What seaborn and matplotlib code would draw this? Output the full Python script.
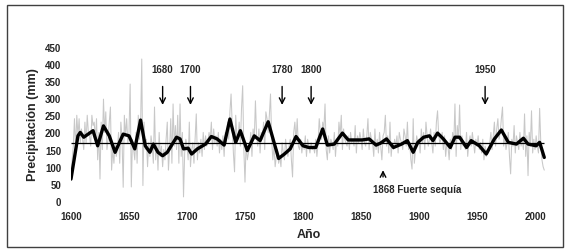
import numpy as np
import pandas as pd
import matplotlib
matplotlib.use("Agg")
import matplotlib.pyplot as plt
from matplotlib.patches import Rectangle
import seaborn as sns

sns.set_style("white")
plt.rcParams["font.family"] = ["Liberation Sans", "DejaVu Sans"]

# ------------------------------------------------------------
# data
# ------------------------------------------------------------
annual = [
    60, 120, 160, 240, 150, 250, 190, 240, 170, 210,     # 1600
    180, 150, 230, 170, 250, 200, 190, 160, 250, 220,    # 1610
    230, 180, 240, 120, 200, 64, 230, 150, 297, 200,     # 1620
    260, 150, 180, 230, 274, 90, 150, 110, 170, 130,     # 1630
    150, 200, 110, 230, 180, 40, 250, 190, 240, 170,     # 1640
    200, 341, 41, 180, 150, 120, 200, 110, 250, 180,     # 1650
    220, 414, 45, 230, 150, 180, 100, 170, 130, 190,     # 1660
    160, 110, 274, 120, 170, 90, 200, 130, 160, 100,     # 1670
    150, 120, 180, 230, 90, 150, 240, 110, 283, 160,     # 1680
    220, 150, 250, 110, 283, 130, 200, 12, 140, 180,     # 1690
    160, 120, 230, 100, 150, 170, 110, 180, 254, 120,    # 1700
    170, 140, 180, 130, 200, 150, 190, 160, 170, 200,    # 1710
    180, 230, 150, 210, 170, 190, 160, 200, 140, 180,    # 1720
    150, 190, 130, 200, 170, 230, 180, 260, 312, 220,    # 1730
    140, 85, 250, 190, 180, 230, 160, 270, 336, 150,     # 1740
    55, 170, 120, 140, 160, 200, 130, 210, 180, 292,     # 1750
    190, 160, 210, 140, 200, 180, 230, 150, 260, 240,    # 1760
    200, 250, 312, 180, 120, 160, 100, 130, 150, 110,    # 1770
    130, 100, 170, 140, 120, 180, 150, 130, 160, 180,    # 1780
    120, 70, 200, 230, 170, 240, 160, 150, 180, 140,     # 1790
    170, 150, 190, 130, 180, 160, 140, 170, 150, 160,    # 1800
    140, 180, 130, 170, 240, 200, 180, 230, 210, 283,    # 1810
    150, 120, 190, 140, 180, 170, 150, 200, 130, 180,    # 1820
    160, 230, 190, 250, 150, 210, 180, 170, 160, 190,    # 1830
    150, 200, 170, 180, 160, 220, 140, 190, 170, 200,    # 1840
    180, 150, 210, 170, 160, 190, 240, 150, 200, 180,    # 1850
    170, 130, 210, 150, 180, 140, 200, 160, 120, 190,    # 1860
    200, 250, 160, 190, 140, 230, 130, 170, 150, 180,    # 1870
    160, 190, 140, 200, 180, 170, 150, 210, 190, 160,    # 1880
    230, 150, 170, 120, 93, 240, 110, 150, 190, 170,     # 1890
    180, 140, 210, 170, 200, 150, 230, 190, 160, 180,    # 1900
    210, 170, 140, 200, 160, 230, 263, 190, 170, 180,    # 1910
    200, 150, 190, 130, 170, 160, 120, 180, 150, 200,    # 1920
    170, 283, 130, 220, 180, 280, 150, 190, 160, 170,    # 1930
    150, 200, 130, 170, 190, 160, 200, 170, 140, 180,    # 1940
    160, 190, 150, 170, 140, 180, 120, 160, 130, 150,    # 1950
    140, 170, 200, 150, 190, 230, 160, 210, 240, 180,    # 1960
    200, 240, 274, 160, 190, 150, 170, 200, 130, 79,     # 1970
    180, 160, 220, 140, 190, 170, 150, 200, 160, 180,    # 1980
    150, 254, 130, 190, 74, 200, 160, 263, 140, 180,     # 1990
    150, 190, 160, 140, 270, 170, 120, 100, 90,          # 2000
]
years = list(range(1600, 1600 + len(annual)))

smooth_years = [1600, 1606, 1608, 1611, 1619, 1623, 1628, 1633, 1638, 1645,
                1650, 1655, 1660, 1664, 1668, 1671, 1675, 1679, 1683, 1691,
                1694, 1697, 1701, 1704, 1709, 1716, 1721, 1726, 1732, 1737,
                1742, 1746, 1752, 1758, 1763, 1770, 1775, 1779, 1784, 1789,
                1794, 1800, 1805, 1811, 1817, 1821, 1827, 1834, 1839, 1851,
                1857, 1863, 1867, 1872, 1878, 1885, 1890, 1895, 1899, 1904,
                1909, 1912, 1916, 1921, 1927, 1931, 1935, 1941, 1945, 1952,
                1958, 1965, 1971, 1977, 1984, 1990, 1994, 2001, 2004, 2008]
smooth_vals = [64, 190, 200, 186, 205, 161, 219, 190, 142, 195,
               190, 152, 236, 161, 142, 166, 142, 132, 142, 186,
               181, 152, 154, 137, 152, 166, 188, 181, 163, 239,
               171, 205, 147, 190, 176, 231, 171, 124, 137, 152,
               188, 161, 156, 156, 210, 163, 166, 198, 178, 178,
               181, 163, 169, 181, 156, 166, 176, 142, 171, 186,
               190, 176, 198, 181, 156, 186, 186, 156, 176, 161,
               137, 181, 207, 171, 166, 183, 166, 161, 171, 127]

mean_value = 170

arrow_labels = ["1680", "1700", "1780", "1800", "1950"]
arrow_years = [1679, 1703, 1782, 1807, 1957]

drought_label = "1868 Fuerte sequía"
drought_year = 1869

# ------------------------------------------------------------
# plot
# ------------------------------------------------------------
df = pd.DataFrame({"Año": years, "Precipitación": annual})
sm = pd.DataFrame({"Año": smooth_years, "Precipitación": smooth_vals})

fig = plt.figure(figsize=(5.8, 2.53), dpi=100)
ax = fig.add_axes([0.1224, 0.2016, 0.82, 0.61])

sns.lineplot(data=df, x="Año", y="Precipitación", ax=ax,
             color="#c8c8c8", lw=0.75)
sns.lineplot(data=sm, x="Año", y="Precipitación", ax=ax,
             color="black", lw=2.4, solid_joinstyle="round",
             solid_capstyle="round")
ax.hlines(mean_value, years[0], years[-1], color="black", lw=0.9)

for lab, yr in zip(arrow_labels, arrow_years):
    ax.annotate("", xy=(yr, 272), xytext=(yr, 342),
                arrowprops=dict(arrowstyle="->", color="black", lw=1))
    ax.text(yr, 385, lab, ha="center", va="center",
            fontsize=7, fontweight="bold")

ax.annotate("", xy=(drought_year, 98), xytext=(drought_year, 62),
            arrowprops=dict(arrowstyle="->", color="black", lw=1))
ax.text(drought_year - 9, 36, drought_label, ha="left", va="center",
        fontsize=7, fontweight="bold")

ax.set_xlim(1600, 2010)
ax.set_ylim(0, 450)
ax.set_xticks(range(1600, 2001, 50))
ax.set_yticks(range(0, 451, 50))
ax.tick_params(labelsize=7, length=0, pad=7)
for t in ax.get_xticklabels() + ax.get_yticklabels():
    t.set_fontweight("bold")
ax.set_xlabel("Año", fontsize=9, fontweight="bold", labelpad=5)
ax.set_ylabel("Precipitación (mm)", fontsize=9, fontweight="bold", labelpad=4)
sns.despine(ax=ax, left=True, bottom=True)

fig.patches.append(Rectangle((0.012, 0.02), 0.959, 0.957, transform=fig.transFigure,
                             fill=False, edgecolor="#404040", lw=1))

fig.savefig("out.png", dpi=100)
